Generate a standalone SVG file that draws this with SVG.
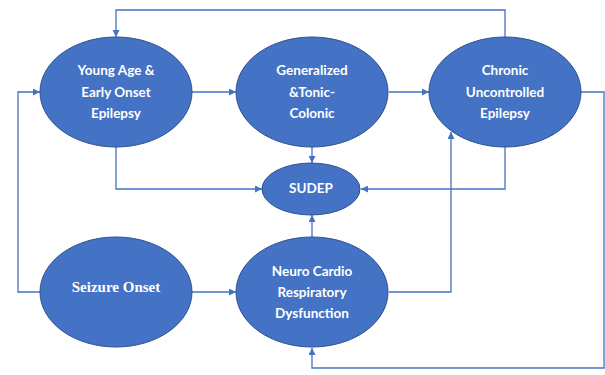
<svg xmlns="http://www.w3.org/2000/svg" width="605" height="375" viewBox="0 0 605 375">
<style>
.n{fill:#4472C4;stroke:#2F528F;stroke-width:1}
.t{fill:#fff;font-family:Lato,"Open Sans",sans-serif;font-weight:bold;font-size:13.5px;text-anchor:middle}
.s{fill:#fff;font-family:"Liberation Serif",serif;font-weight:bold;font-size:15px;text-anchor:middle}
.c{fill:none;stroke:#4472C4;stroke-width:1.3}
</style>
<defs>
<marker id="a" viewBox="0 0 10 10" refX="10" refY="5" markerWidth="7" markerHeight="7" markerUnits="userSpaceOnUse" orient="auto">
<path d="M0,0L10,5L0,10z" fill="#4472C4"/>
</marker>
</defs>
<g id="connectors">
<path class="c" d="M505,37V10H116V37" marker-end="url(#a)"/>
<path class="c" d="M40,292H18V92H40" marker-end="url(#a)"/>
<path class="c" d="M192,92H236" marker-end="url(#a)"/>
<path class="c" d="M389,92H429" marker-end="url(#a)"/>
<path class="c" d="M581,92H604V368H312V348" marker-end="url(#a)"/>
<path class="c" d="M312,147V163" marker-end="url(#a)"/>
<path class="c" d="M116,147V189H262" marker-end="url(#a)"/>
<path class="c" d="M505,147V189H361" marker-end="url(#a)"/>
<path class="c" d="M389,292H451V132" marker-end="url(#a)"/>
<path class="c" d="M312,237V215" marker-end="url(#a)"/>
<path class="c" d="M192,292H236" marker-end="url(#a)"/>
</g>
<g id="young">
<ellipse class="n" cx="116" cy="92" rx="76" ry="55"/>
<text class="t" x="116" y="75">Young Age &amp;</text>
<text class="t" x="116" y="97">Early Onset</text>
<text class="t" x="116" y="118">Epilepsy</text>
</g>
<g id="generalized">
<ellipse class="n" cx="312" cy="92" rx="76" ry="55"/>
<text class="t" x="312" y="75">Generalized</text>
<text class="t" x="312" y="97">&amp;Tonic-</text>
<text class="t" x="312" y="118">Colonic</text>
</g>
<g id="chronic">
<ellipse class="n" cx="505" cy="92" rx="76" ry="55"/>
<text class="t" x="505" y="75">Chronic</text>
<text class="t" x="505" y="97">Uncontrolled</text>
<text class="t" x="505" y="118">Epilepsy</text>
</g>
<g id="sudep">
<ellipse class="n" cx="311" cy="189" rx="49" ry="26"/>
<text class="t" x="311" y="193">SUDEP</text>
</g>
<g id="seizure">
<ellipse class="n" cx="116" cy="292" rx="76" ry="55"/>
<text class="s" x="116" y="292">Seizure Onset</text>
</g>
<g id="neuro">
<ellipse class="n" cx="312" cy="292" rx="76" ry="55"/>
<text class="t" x="312" y="276">Neuro Cardio</text>
<text class="t" x="312" y="297">Respiratory</text>
<text class="t" x="312" y="318">Dysfunction</text>
</g>
</svg>
